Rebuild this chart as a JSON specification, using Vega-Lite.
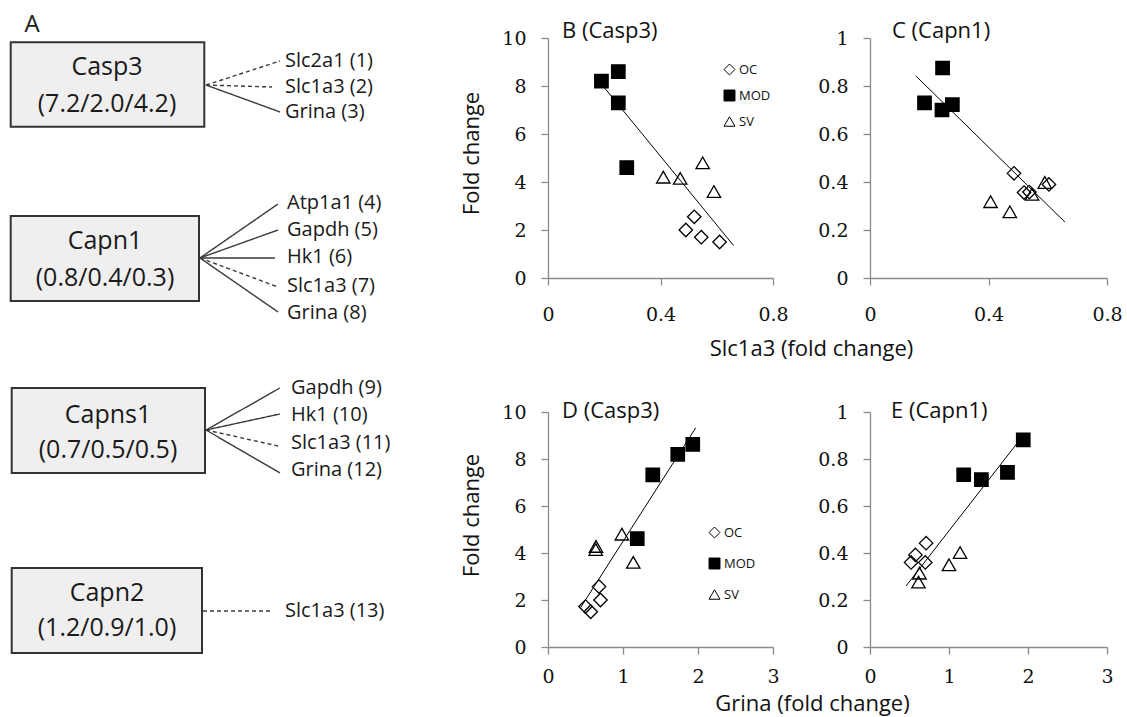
{
  "$schema": "https://vega.github.io/schema/vega-lite/v6.json",
  "background": "white",
  "padding": 0,
  "config": {
    "font": "Open Sans",
    "view": {"stroke": null},
    "axis": {
      "domainColor": "#8a8a8a", "tickColor": "#8a8a8a", "domainWidth": 1.3, "tickWidth": 1.3,
      "tickSize": 7, "grid": false, "labelFont": "DejaVu Serif", "labelFontSize": 19,
      "labelColor": "#111111", "labelFlush": false, "labelOverlap": false,
      "titleFont": "Open Sans", "titleFontSize": 22, "titleFontWeight": "normal", "titleColor": "#111111"
    },
    "axisX": {"labelPadding": 20},
    "axisY": {"labelPadding": 15},
    "title": {"font": "Open Sans", "fontSize": 22, "fontWeight": "normal", "color": "#111111", "anchor": "start", "frame": "group", "baseline": "middle"},
    "legend": {"title": null, "padding": 0, "labelFont": "Open Sans", "labelFontSize": 13, "labelColor": "#111111", "symbolSize": 120, "symbolStrokeWidth": 1, "labelOffset": 3}
  },
  "datasets": {
    "points": [
      {"panel": "B", "group": "MOD", "x": 0.19, "y": 8.2},
      {"panel": "B", "group": "MOD", "x": 0.25, "y": 8.6},
      {"panel": "B", "group": "MOD", "x": 0.25, "y": 7.3},
      {"panel": "B", "group": "MOD", "x": 0.28, "y": 4.6},
      {"panel": "B", "group": "SV", "x": 0.41, "y": 4.2},
      {"panel": "B", "group": "SV", "x": 0.47, "y": 4.15},
      {"panel": "B", "group": "SV", "x": 0.55, "y": 4.8},
      {"panel": "B", "group": "SV", "x": 0.59, "y": 3.6},
      {"panel": "B", "group": "OC", "x": 0.49, "y": 2.0},
      {"panel": "B", "group": "OC", "x": 0.52, "y": 2.55},
      {"panel": "B", "group": "OC", "x": 0.545, "y": 1.7},
      {"panel": "B", "group": "OC", "x": 0.61, "y": 1.5},
      {"panel": "C", "group": "MOD", "x": 0.184, "y": 0.73},
      {"panel": "C", "group": "MOD", "x": 0.245, "y": 0.875},
      {"panel": "C", "group": "MOD", "x": 0.243, "y": 0.70},
      {"panel": "C", "group": "MOD", "x": 0.278, "y": 0.722},
      {"panel": "C", "group": "OC", "x": 0.486, "y": 0.436},
      {"panel": "C", "group": "OC", "x": 0.52, "y": 0.356},
      {"panel": "C", "group": "OC", "x": 0.538, "y": 0.358},
      {"panel": "C", "group": "OC", "x": 0.604, "y": 0.39},
      {"panel": "C", "group": "SV", "x": 0.407, "y": 0.318},
      {"panel": "C", "group": "SV", "x": 0.472, "y": 0.276},
      {"panel": "C", "group": "SV", "x": 0.547, "y": 0.349},
      {"panel": "C", "group": "SV", "x": 0.59, "y": 0.398},
      {"panel": "D", "group": "MOD", "x": 1.397, "y": 7.32},
      {"panel": "D", "group": "MOD", "x": 1.73, "y": 8.2},
      {"panel": "D", "group": "MOD", "x": 1.93, "y": 8.62},
      {"panel": "D", "group": "MOD", "x": 1.19, "y": 4.61},
      {"panel": "D", "group": "SV", "x": 0.636, "y": 4.15},
      {"panel": "D", "group": "SV", "x": 0.64, "y": 4.28},
      {"panel": "D", "group": "SV", "x": 0.985, "y": 4.8},
      {"panel": "D", "group": "SV", "x": 1.137, "y": 3.6},
      {"panel": "D", "group": "OC", "x": 0.50, "y": 1.72},
      {"panel": "D", "group": "OC", "x": 0.57, "y": 1.5},
      {"panel": "D", "group": "OC", "x": 0.68, "y": 2.57},
      {"panel": "D", "group": "OC", "x": 0.70, "y": 2.0},
      {"panel": "E", "group": "MOD", "x": 1.186, "y": 0.733},
      {"panel": "E", "group": "MOD", "x": 1.41, "y": 0.712},
      {"panel": "E", "group": "MOD", "x": 1.74, "y": 0.743},
      {"panel": "E", "group": "MOD", "x": 1.94, "y": 0.881},
      {"panel": "E", "group": "OC", "x": 0.52, "y": 0.36},
      {"panel": "E", "group": "OC", "x": 0.575, "y": 0.392},
      {"panel": "E", "group": "OC", "x": 0.71, "y": 0.442},
      {"panel": "E", "group": "OC", "x": 0.70, "y": 0.36},
      {"panel": "E", "group": "SV", "x": 0.626, "y": 0.314},
      {"panel": "E", "group": "SV", "x": 0.614, "y": 0.276},
      {"panel": "E", "group": "SV", "x": 1.0, "y": 0.35},
      {"panel": "E", "group": "SV", "x": 1.14, "y": 0.402}
    ],
    "trends": [
      {"panel": "B", "x": 0.185, "y": 8.15, "x2": 0.66, "y2": 1.35},
      {"panel": "C", "x": 0.154, "y": 0.843, "x2": 0.658, "y2": 0.233},
      {"panel": "D", "x": 0.435, "y": 1.68, "x2": 1.97, "y2": 9.33},
      {"panel": "E", "x": 0.457, "y": 0.26, "x2": 1.89, "y2": 0.879}
    ],
    "boxes": [
      {"gene": "Casp3", "vals": "(7.2/2.0/4.2)", "x0": 2.14, "x1": 40.86, "y0": 5.9, "y1": 17.67, "tx": 21.4, "ty1": 9.34, "ty2": 14.5},
      {"gene": "Capn1", "vals": "(0.8/0.4/0.3)", "x0": 2.14, "x1": 39.8, "y0": 30.13, "y1": 41.98, "tx": 21.0, "ty1": 33.6, "ty2": 38.8},
      {"gene": "Capns1", "vals": "(0.7/0.5/0.5)", "x0": 2.34, "x1": 41.0, "y0": 54.11, "y1": 65.97, "tx": 21.6, "ty1": 57.9, "ty2": 62.8},
      {"gene": "Capn2", "vals": "(1.2/0.9/1.0)", "x0": 2.34, "x1": 40.4, "y0": 79.22, "y1": 91.07, "tx": 21.4, "ty1": 82.7, "ty2": 87.6}
    ],
    "links": [
      {"source": "Casp3", "target": "Slc2a1 (1)", "style": "dashed", "x0": 41.2, "y0": 11.86, "x1": 56.0, "y1": 8.51, "lx": 57.0, "ly": 8.51},
      {"source": "Casp3", "target": "Slc1a3 (2)", "style": "dashed", "x0": 41.2, "y0": 11.86, "x1": 54.4, "y1": 12.13, "lx": 57.0, "ly": 12.13},
      {"source": "Casp3", "target": "Grina (3)", "style": "solid", "x0": 41.2, "y0": 11.86, "x1": 56.0, "y1": 15.62, "lx": 57.0, "ly": 15.62},
      {"source": "Capn1", "target": "Atp1a1 (4)", "style": "solid", "x0": 40.0, "y0": 35.98, "x1": 55.6, "y1": 28.45, "lx": 57.4, "ly": 28.31},
      {"source": "Capn1", "target": "Gapdh (5)", "style": "solid", "x0": 40.0, "y0": 35.98, "x1": 55.6, "y1": 32.08, "lx": 57.4, "ly": 32.08},
      {"source": "Capn1", "target": "Hk1 (6)", "style": "solid", "x0": 40.0, "y0": 35.98, "x1": 55.0, "y1": 35.98, "lx": 57.4, "ly": 35.84},
      {"source": "Capn1", "target": "Slc1a3 (7)", "style": "dashed", "x0": 40.0, "y0": 35.98, "x1": 55.6, "y1": 40.03, "lx": 57.4, "ly": 39.89},
      {"source": "Capn1", "target": "Grina (8)", "style": "solid", "x0": 40.0, "y0": 35.98, "x1": 55.6, "y1": 43.51, "lx": 57.4, "ly": 43.65},
      {"source": "Capns1", "target": "Gapdh (9)", "style": "solid", "x0": 41.2, "y0": 59.97, "x1": 56.0, "y1": 54.11, "lx": 58.2, "ly": 54.11},
      {"source": "Capns1", "target": "Hk1 (10)", "style": "solid", "x0": 41.2, "y0": 59.97, "x1": 56.0, "y1": 57.74, "lx": 58.2, "ly": 57.88},
      {"source": "Capns1", "target": "Slc1a3 (11)", "style": "dashed", "x0": 41.2, "y0": 59.97, "x1": 55.6, "y1": 62.2, "lx": 58.2, "ly": 61.79},
      {"source": "Capns1", "target": "Grina (12)", "style": "solid", "x0": 41.2, "y0": 59.97, "x1": 56.0, "y1": 65.97, "lx": 58.2, "ly": 65.55},
      {"source": "Capn2", "target": "Slc1a3 (13)", "style": "dashed", "x0": 40.6, "y0": 85.22, "x1": 54.6, "y1": 85.22, "lx": 57.0, "ly": 85.22}
    ],
    "panelLabel": [{"text": "A", "x": 6.4, "y": 3.49}]
  },
  "bounds": "flush",
  "spacing": 48,
  "resolve": {"scale": {"shape": "independent", "fill": "independent", "stroke": "independent", "strokeDash": "independent"}, "legend": {"shape": "independent", "fill": "independent", "stroke": "independent"}},
  "hconcat": [
    {
      "width": 500,
      "height": 717,
      "layer": [
        {
          "data": {"name": "boxes"},
          "mark": {"type": "rect", "fill": "#efefef", "stroke": "#333333", "strokeWidth": 2},
          "encoding": {
            "x": {"field": "x0", "type": "quantitative", "scale": {"domain": [0, 100], "nice": false, "zero": false}, "axis": null},
            "x2": {"field": "x1"},
            "y": {"field": "y0", "type": "quantitative", "scale": {"domain": [0, 100], "nice": false, "zero": false, "reverse": true}, "axis": null},
            "y2": {"field": "y1"}
          }
        },
        {
          "data": {"name": "links"},
          "mark": {"type": "rule", "color": "#3a3a3a", "strokeWidth": 1.4},
          "encoding": {
            "x": {"field": "x0", "type": "quantitative", "scale": {"domain": [0, 100], "nice": false, "zero": false}, "axis": null},
            "x2": {"field": "x1"},
            "y": {"field": "y0", "type": "quantitative", "scale": {"domain": [0, 100], "nice": false, "zero": false, "reverse": true}, "axis": null},
            "y2": {"field": "y1"},
            "strokeDash": {"field": "style", "type": "nominal", "scale": {"domain": ["solid", "dashed"], "range": [[1, 0], [4, 3]]}, "legend": null}
          }
        },
        {
          "data": {"name": "boxes"},
          "mark": {"type": "text", "fontSize": 25, "font": "Open Sans", "color": "#1a1a1a", "align": "center", "baseline": "middle"},
          "encoding": {
            "x": {"field": "tx", "type": "quantitative", "scale": {"domain": [0, 100], "nice": false, "zero": false}, "axis": null},
            "y": {"field": "ty1", "type": "quantitative", "scale": {"domain": [0, 100], "nice": false, "zero": false, "reverse": true}, "axis": null},
            "text": {"field": "gene"}
          }
        },
        {
          "data": {"name": "boxes"},
          "mark": {"type": "text", "fontSize": 25, "font": "Open Sans", "color": "#1a1a1a", "align": "center", "baseline": "middle"},
          "encoding": {
            "x": {"field": "tx", "type": "quantitative", "scale": {"domain": [0, 100], "nice": false, "zero": false}, "axis": null},
            "y": {"field": "ty2", "type": "quantitative", "scale": {"domain": [0, 100], "nice": false, "zero": false, "reverse": true}, "axis": null},
            "text": {"field": "vals"}
          }
        },
        {
          "data": {"name": "links"},
          "mark": {"type": "text", "fontSize": 20, "font": "Open Sans", "color": "#1a1a1a", "align": "left", "baseline": "middle"},
          "encoding": {
            "x": {"field": "lx", "type": "quantitative", "scale": {"domain": [0, 100], "nice": false, "zero": false}, "axis": null},
            "y": {"field": "ly", "type": "quantitative", "scale": {"domain": [0, 100], "nice": false, "zero": false, "reverse": true}, "axis": null},
            "text": {"field": "target"}
          }
        },
        {
          "data": {"name": "panelLabel"},
          "mark": {"type": "text", "fontSize": 24, "font": "Open Sans", "color": "#1a1a1a", "align": "center", "baseline": "middle"},
          "encoding": {
            "x": {"field": "x", "type": "quantitative", "scale": {"domain": [0, 100], "nice": false, "zero": false}, "axis": null},
            "y": {"field": "y", "type": "quantitative", "scale": {"domain": [0, 100], "nice": false, "zero": false, "reverse": true}, "axis": null},
            "text": {"field": "text"}
          }
        }
      ]
    },
    {
      "bounds": "flush",
      "spacing": 0,
      "resolve": {"scale": {"shape": "independent", "fill": "independent", "stroke": "independent"}, "legend": {"shape": "independent", "fill": "independent", "stroke": "independent"}},
      "vconcat": [
        {
          "width": 10,
          "height": 38,
          "data": {"values": [{"a": 1}]},
          "mark": {"type": "point", "opacity": 0},
          "encoding": {}
        },
        {
          "bounds": "flush",
          "columns": 2,
          "spacing": {"row": 134, "column": 97},
          "resolve": {"scale": {"shape": "independent", "fill": "independent", "stroke": "independent"}, "legend": {"shape": "independent", "fill": "independent", "stroke": "independent"}},
          "concat": [
            {
              "width": 225,
              "height": 240,
              "title": {"text": "B (Casp3)", "dx": 14, "offset": -14},
              "layer": [
                {
                  "data": {"name": "trends"},
                  "transform": [{"filter": "datum.panel === 'B'"}],
                  "mark": {"type": "rule", "color": "black", "strokeWidth": 1},
                  "encoding": {
                    "x": {"field": "x", "type": "quantitative", "scale": {"domain": [0, 0.8], "nice": false}, "axis": {"values": [0, 0.4, 0.8], "format": "~g", "title": "Slc1a3 (fold change)", "titleX": 263, "titleY": 70, "titleBaseline": "middle", "titleAlign": "center"}},
                    "y": {"field": "y", "type": "quantitative", "scale": {"domain": [0, 10], "nice": false}, "axis": {"values": [0, 2, 4, 6, 8, 10], "title": "Fold change", "titleX": -77, "titleY": 115, "titleAngle": -90, "titleBaseline": "middle", "titleAlign": "center"}},
                    "x2": {"field": "x2"},
                    "y2": {"field": "y2"}
                  }
                },
                {
                  "data": {"name": "points"},
                  "transform": [{"filter": "datum.panel === 'B'"}],
                  "mark": {"type": "point", "filled": true, "opacity": 1, "strokeWidth": 1.3, "size": 180},
                  "encoding": {
                    "x": {"field": "x", "type": "quantitative", "scale": {"domain": [0, 0.8], "nice": false}, "axis": {"values": [0, 0.4, 0.8], "format": "~g", "title": "Slc1a3 (fold change)", "titleX": 263, "titleY": 70, "titleBaseline": "middle", "titleAlign": "center"}},
                    "y": {"field": "y", "type": "quantitative", "scale": {"domain": [0, 10], "nice": false}, "axis": {"values": [0, 2, 4, 6, 8, 10], "title": "Fold change", "titleX": -77, "titleY": 115, "titleAngle": -90, "titleBaseline": "middle", "titleAlign": "center"}},
                    "shape": {"field": "group", "type": "nominal", "scale": {"domain": ["OC", "MOD", "SV"], "range": ["diamond", "square", "triangle-up"]}, "legend": {"orient": "none", "legendX": 175, "legendY": 25, "rowPadding": 11}},
                    "fill": {"field": "group", "type": "nominal", "scale": {"domain": ["OC", "MOD", "SV"], "range": ["transparent", "black", "transparent"]}, "legend": {"orient": "none", "legendX": 175, "legendY": 25, "rowPadding": 11}},
                    "stroke": {"field": "group", "type": "nominal", "scale": {"domain": ["OC", "MOD", "SV"], "range": ["black", "black", "black"]}, "legend": {"orient": "none", "legendX": 175, "legendY": 25, "rowPadding": 11}}
                  }
                }
              ]
            },
            {
              "width": 237,
              "height": 240,
              "title": {"text": "C (Capn1)", "dx": 22, "offset": -14},
              "layer": [
                {
                  "data": {"name": "trends"},
                  "transform": [{"filter": "datum.panel === 'C'"}],
                  "mark": {"type": "rule", "color": "black", "strokeWidth": 1},
                  "encoding": {
                    "x": {"field": "x", "type": "quantitative", "scale": {"domain": [0, 0.8], "nice": false}, "axis": {"values": [0, 0.4, 0.8], "format": "~g", "title": null}},
                    "y": {"field": "y", "type": "quantitative", "scale": {"domain": [0, 1], "nice": false}, "axis": {"values": [0, 0.2, 0.4, 0.6, 0.8, 1], "format": "~g", "title": null}},
                    "x2": {"field": "x2"},
                    "y2": {"field": "y2"}
                  }
                },
                {
                  "data": {"name": "points"},
                  "transform": [{"filter": "datum.panel === 'C'"}],
                  "mark": {"type": "point", "filled": true, "opacity": 1, "strokeWidth": 1.3, "size": 180},
                  "encoding": {
                    "x": {"field": "x", "type": "quantitative", "scale": {"domain": [0, 0.8], "nice": false}, "axis": {"values": [0, 0.4, 0.8], "format": "~g", "title": null}},
                    "y": {"field": "y", "type": "quantitative", "scale": {"domain": [0, 1], "nice": false}, "axis": {"values": [0, 0.2, 0.4, 0.6, 0.8, 1], "format": "~g", "title": null}},
                    "shape": {"field": "group", "type": "nominal", "scale": {"domain": ["OC", "MOD", "SV"], "range": ["diamond", "square", "triangle-up"]}, "legend": null},
                    "fill": {"field": "group", "type": "nominal", "scale": {"domain": ["OC", "MOD", "SV"], "range": ["transparent", "black", "transparent"]}, "legend": null},
                    "stroke": {"field": "group", "type": "nominal", "scale": {"domain": ["OC", "MOD", "SV"], "range": ["black", "black", "black"]}, "legend": null}
                  }
                }
              ]
            },
            {
              "width": 225,
              "height": 235,
              "title": {"text": "D (Casp3)", "dx": 14, "offset": -20},
              "layer": [
                {
                  "data": {"name": "trends"},
                  "transform": [{"filter": "datum.panel === 'D'"}],
                  "mark": {"type": "rule", "color": "black", "strokeWidth": 1},
                  "encoding": {
                    "x": {"field": "x", "type": "quantitative", "scale": {"domain": [0, 3], "nice": false}, "axis": {"values": [0, 1, 2, 3], "labelPadding": 13, "title": "Grina (fold change)", "titleX": 264, "titleY": 56, "titleBaseline": "middle", "titleAlign": "center"}},
                    "y": {"field": "y", "type": "quantitative", "scale": {"domain": [0, 10], "nice": false}, "axis": {"values": [0, 2, 4, 6, 8, 10], "title": "Fold change", "titleX": -77, "titleY": 103, "titleAngle": -90, "titleBaseline": "middle", "titleAlign": "center"}},
                    "x2": {"field": "x2"},
                    "y2": {"field": "y2"}
                  }
                },
                {
                  "data": {"name": "points"},
                  "transform": [{"filter": "datum.panel === 'D'"}],
                  "mark": {"type": "point", "filled": true, "opacity": 1, "strokeWidth": 1.3, "size": 180},
                  "encoding": {
                    "x": {"field": "x", "type": "quantitative", "scale": {"domain": [0, 3], "nice": false}, "axis": {"values": [0, 1, 2, 3], "labelPadding": 13, "title": "Grina (fold change)", "titleX": 264, "titleY": 56, "titleBaseline": "middle", "titleAlign": "center"}},
                    "y": {"field": "y", "type": "quantitative", "scale": {"domain": [0, 10], "nice": false}, "axis": {"values": [0, 2, 4, 6, 8, 10], "title": "Fold change", "titleX": -77, "titleY": 103, "titleAngle": -90, "titleBaseline": "middle", "titleAlign": "center"}},
                    "shape": {"field": "group", "type": "nominal", "scale": {"domain": ["OC", "MOD", "SV"], "range": ["diamond", "square", "triangle-up"]}, "legend": {"orient": "none", "legendX": 160, "legendY": 114, "rowPadding": 16}},
                    "fill": {"field": "group", "type": "nominal", "scale": {"domain": ["OC", "MOD", "SV"], "range": ["transparent", "black", "transparent"]}, "legend": {"orient": "none", "legendX": 160, "legendY": 114, "rowPadding": 16}},
                    "stroke": {"field": "group", "type": "nominal", "scale": {"domain": ["OC", "MOD", "SV"], "range": ["black", "black", "black"]}, "legend": {"orient": "none", "legendX": 160, "legendY": 114, "rowPadding": 16}}
                  }
                }
              ]
            },
            {
              "width": 237,
              "height": 235,
              "title": {"text": "E (Capn1)", "dx": 21, "offset": -20},
              "layer": [
                {
                  "data": {"name": "trends"},
                  "transform": [{"filter": "datum.panel === 'E'"}],
                  "mark": {"type": "rule", "color": "black", "strokeWidth": 1},
                  "encoding": {
                    "x": {"field": "x", "type": "quantitative", "scale": {"domain": [0, 3], "nice": false}, "axis": {"values": [0, 1, 2, 3], "labelPadding": 13, "title": null}},
                    "y": {"field": "y", "type": "quantitative", "scale": {"domain": [0, 1], "nice": false}, "axis": {"values": [0, 0.2, 0.4, 0.6, 0.8, 1], "format": "~g", "title": null}},
                    "x2": {"field": "x2"},
                    "y2": {"field": "y2"}
                  }
                },
                {
                  "data": {"name": "points"},
                  "transform": [{"filter": "datum.panel === 'E'"}],
                  "mark": {"type": "point", "filled": true, "opacity": 1, "strokeWidth": 1.3, "size": 180},
                  "encoding": {
                    "x": {"field": "x", "type": "quantitative", "scale": {"domain": [0, 3], "nice": false}, "axis": {"values": [0, 1, 2, 3], "labelPadding": 13, "title": null}},
                    "y": {"field": "y", "type": "quantitative", "scale": {"domain": [0, 1], "nice": false}, "axis": {"values": [0, 0.2, 0.4, 0.6, 0.8, 1], "format": "~g", "title": null}},
                    "shape": {"field": "group", "type": "nominal", "scale": {"domain": ["OC", "MOD", "SV"], "range": ["diamond", "square", "triangle-up"]}, "legend": null},
                    "fill": {"field": "group", "type": "nominal", "scale": {"domain": ["OC", "MOD", "SV"], "range": ["transparent", "black", "transparent"]}, "legend": null},
                    "stroke": {"field": "group", "type": "nominal", "scale": {"domain": ["OC", "MOD", "SV"], "range": ["black", "black", "black"]}, "legend": null}
                  }
                }
              ]
            }
          ]
        }
      ]
    }
  ]
}
